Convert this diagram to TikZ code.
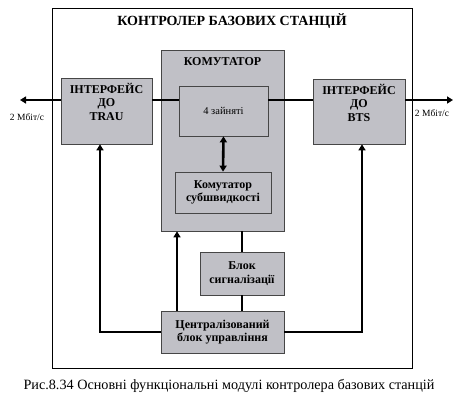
\documentclass[tikz,border=0pt]{standalone}
\usepackage{fontspec}
\setmainfont{Liberation Serif}
\usetikzlibrary{arrows.meta,positioning,calc}
\definecolor{boxgray}{RGB}{192,192,198}
\definecolor{edgegray}{RGB}{70,70,70}

\tikzset{
  block/.style={draw=edgegray,line width=0.7pt,fill=boxgray,inner sep=0pt},
  blocktext/.style={font=\fontsize{12}{13.5}\selectfont\bfseries,align=center,inner sep=0pt},
  link/.style={line width=2.6pt},
  arr/.style={link,-{Triangle[length=6pt,width=7pt]}},
  darr/.style={link,{Triangle[length=6pt,width=7pt]}-{Triangle[length=6pt,width=7pt]}}
}

\begin{document}
\begin{tikzpicture}[x=1pt,y=-1pt]
  \useasboundingbox (0,0) rectangle (468,405);
  % outer frame
  \node[draw,line width=0.8pt,minimum width=360pt,minimum height=360pt] (frame) at (232,188) {};
  \node[font=\fontsize{14}{16}\selectfont\bfseries] (title) at (232,21) {КОНТРОЛЕР БАЗОВИХ СТАНЦІЙ};

  % switch
  \node[block,minimum width=123pt,minimum height=181pt] (komm) at (222.5,140.5) {};
  \node[blocktext] (kommtext) at (222.5,62) {КОМУТАТОР};
  \node[block,minimum width=89pt,minimum height=50pt,font=\fontsize{10.5}{12}\selectfont] (busy) at (223.5,111) {4 зайняті};
  \node[block,minimum width=96pt,minimum height=41pt,blocktext] (subrate) at (223,192.5) {Комутатор\\субшвидкості};

  % interfaces
  \node[block,minimum width=91pt,minimum height=66pt] (trau) at (106.5,111) {};
  \node[blocktext,below=5pt of trau.north,font=\fontsize{12}{13.8}\selectfont\bfseries] (trautext) {ІНТЕРФЕЙС\\ДО\\TRAU};
  \node[block,minimum width=92pt,minimum height=65pt] (bts) at (359,111.5) {};
  \node[blocktext,below=5pt of bts.north,font=\fontsize{12}{13.8}\selectfont\bfseries] (btstext) {ІНТЕРФЕЙС\\ДО\\BTS};

  % signalling and control
  \node[block,minimum width=84pt,minimum height=43pt,blocktext] (sig) at (242,273.5) {Блок\\сигналізації};
  \node[block,minimum width=123pt,minimum height=42pt,blocktext] (cbu) at (222.5,332) {Централізований\\блок управління};

  % external links
  \coordinate (lend) at (20,100);
  \coordinate (rend) at (453,100);
  \draw[arr] (trau.west |- lend) -- (lend);
  \draw[arr] (bts.east |- rend) -- (rend);
  \draw[link] (trau.east |- lend) -- (busy.west |- lend);
  \draw[link] (busy.east |- rend) -- (bts.west |- rend);
  \node[font=\fontsize{9.5}{11}\selectfont] (lrate) at (27,117) {2 Мбіт/с};
  \node[font=\fontsize{9.5}{11}\selectfont] (rrate) at (432,113) {2 Мбіт/с};

  % internal links
  \draw[darr] (busy.south) -- (subrate.north);
  \draw[link] (komm.south -| sig.north) -- (sig.north);
  \draw[link] (sig.south) -- (cbu.north -| sig.south);
  \draw[arr] ($(cbu.north)+(-45.5,0)$) -- ($(komm.south)+(-45.5,0)$);
  \draw[arr] (cbu.west) -| ($(trau.south)+(-6.5,0)$);
  \draw[arr] (cbu.east) -| ($(bts.south)+(3,0)$);

  % caption
  \node[font=\fontsize{14.2}{16}\selectfont] (caption) at (229,386) {Рис.8.34 Основні функціональні модулі контролера базових станцій};
\end{tikzpicture}
\end{document}
